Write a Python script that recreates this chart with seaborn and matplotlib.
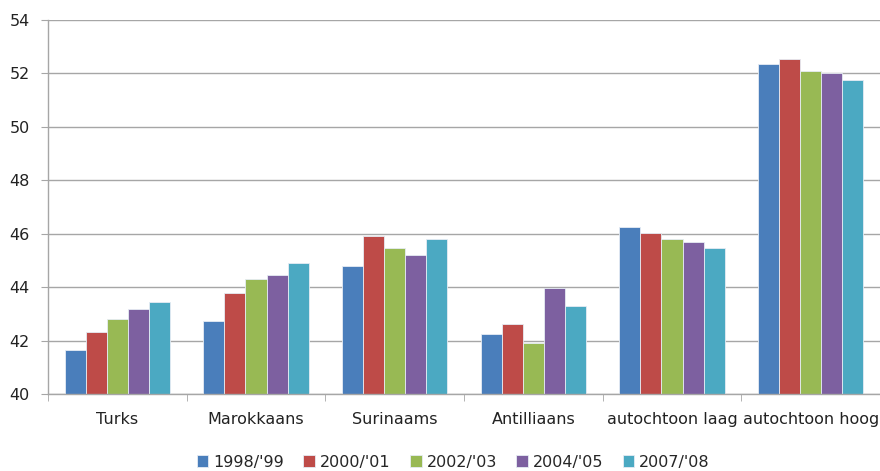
import pandas as pd
import seaborn as sns
import matplotlib.pyplot as plt
from matplotlib.ticker import FixedLocator

# -------------------------------
# Data
# -------------------------------
groepen = ["Turks", "Marokkaans", "Surinaams", "Antilliaans",
           "autochtoon laag", "autochtoon hoog"]
jaren = ["1998/'99", "2000/'01", "2002/'03", "2004/'05", "2007/'08"]

w_1998 = [41.65, 42.73, 44.80, 42.23, 46.26, 52.35]
w_2000 = [42.33, 43.77, 45.90, 42.62, 46.01, 52.53]
w_2002 = [42.81, 44.30, 45.45, 41.91, 45.80, 52.09]
w_2004 = [43.20, 44.47, 45.20, 43.96, 45.69, 52.00]
w_2007 = [43.44, 44.92, 45.80, 43.28, 45.48, 51.74]

kleuren = ["#4A7EBB", "#BE4B48", "#98B954", "#7D60A0", "#4BA9C2"]

rows = []
for jaar, vals in zip(jaren, [w_1998, w_2000, w_2002, w_2004, w_2007]):
    for g, v in zip(groepen, vals):
        rows.append({"groep": g, "jaar": jaar, "waarde": v})
df = pd.DataFrame(rows)

# -------------------------------
# Plot
# -------------------------------
sns.set_style("white")
plt.rcParams["font.family"] = ["Liberation Sans Narrow", "DejaVu Sans"]

fig = plt.figure(figsize=(8.8, 4.71), dpi=100)
ax = fig.add_axes([0.0545, 0.1635, 0.9455, 0.794])

sns.barplot(data=df, x="groep", y="waarde", hue="jaar", palette=kleuren,
            saturation=1, width=0.76, edgecolor="#E6ECF4", linewidth=0.6,
            ax=ax, errorbar=None, legend=True)

ax.set_ylim(40, 54)
ax.set_xlim(-0.5, 5.5)
ax.set_yticks(range(40, 55, 2))
ax.yaxis.grid(True, color="#A6A6A6", linewidth=1)
ax.set_axisbelow(True)
ax.set_xlabel("")
ax.set_ylabel("")

for s in ["top", "right"]:
    ax.spines[s].set_visible(False)
for s in ["left", "bottom"]:
    ax.spines[s].set_color("#A6A6A6")
    ax.spines[s].set_linewidth(1)

ax.tick_params(axis="y", length=5, color="#A6A6A6", labelsize=11.5,
               labelcolor="#222222", pad=8, direction="out", left=True)
ax.tick_params(axis="x", which="major", length=0, labelsize=11.5,
               labelcolor="#222222", pad=13)
ax.xaxis.set_minor_locator(FixedLocator([i - 0.5 for i in range(7)]))
ax.tick_params(axis="x", which="minor", length=5, color="#A6A6A6",
               direction="out", bottom=True)

handles, labels = ax.get_legend_handles_labels()
ax.legend_.remove()
fig.legend(handles, labels, loc="lower center", bbox_to_anchor=(0.515, -0.028),
           ncol=5, frameon=False, fontsize=11.5, handlelength=0.75,
           handleheight=0.75, handletextpad=0.3, columnspacing=1.2)

fig.savefig("out.png", dpi=100)
